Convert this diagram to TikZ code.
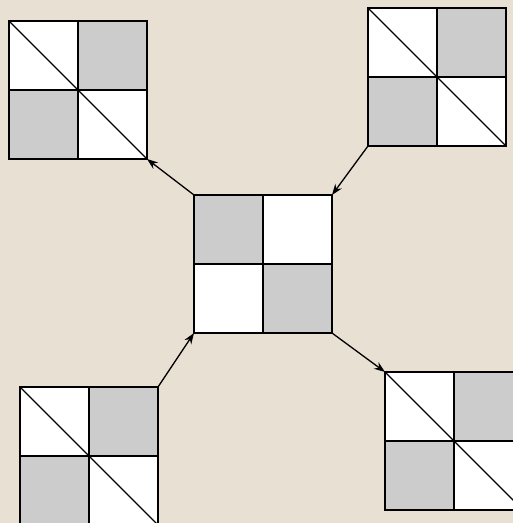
\documentclass[tikz,border=0pt]{standalone}
\usetikzlibrary{arrows.meta}
\definecolor{parch}{RGB}{232,225,211}
\definecolor{tilegray}{RGB}{204,204,204}
\begin{document}
\begin{tikzpicture}[x=1pt,y=1pt,
  tile/.style={draw=black,line width=2pt,minimum width=69pt,minimum height=69pt,inner sep=0pt,outer sep=0pt},
  wt/.style={tile,fill=white},
  gt/.style={tile,fill=tilegray},
  diag/.style={draw=black,line width=1.3pt},
  conn/.style={draw=black,line width=1.3pt,-{Stealth[length=11pt,width=8pt]}}]
\useasboundingbox (0,0) rectangle (513,-523);
\clip (0,0) rectangle (513,-523);
\fill[parch] (0,0) rectangle (513,-523);
% top-left block (x0=9, y0=21)
\node[wt] (a11) at (43.5,-55.5) {};
\node[gt] (a12) at (112.5,-55.5) {};
\node[gt] (a21) at (43.5,-124.5) {};
\node[wt] (a22) at (112.5,-124.5) {};
\draw[diag] (a11.north west) -- (a11.south east);
\draw[diag] (a22.north west) -- (a22.south east);
% top-right block (x0=368, y0=8)
\node[wt] (b11) at (402.5,-42.5) {};
\node[gt] (b12) at (471.5,-42.5) {};
\node[gt] (b21) at (402.5,-111.5) {};
\node[wt] (b22) at (471.5,-111.5) {};
\draw[diag] (b11.north west) -- (b11.south east);
\draw[diag] (b22.north west) -- (b22.south east);
% center block (x0=194, y0=195)
\node[gt] (c11) at (228.5,-229.5) {};
\node[wt] (c12) at (297.5,-229.5) {};
\node[wt] (c21) at (228.5,-298.5) {};
\node[gt] (c22) at (297.5,-298.5) {};
% bottom-left block (x0=20, y0=387)
\node[wt] (d11) at (54.5,-421.5) {};
\node[gt] (d12) at (123.5,-421.5) {};
\node[gt] (d21) at (54.5,-490.5) {};
\node[wt] (d22) at (123.5,-490.5) {};
\draw[diag] (d11.north west) -- (d11.south east);
\draw[diag] (d22.north west) -- (d22.south east);
% bottom-right block (x0=385, y0=372)
\node[wt] (e11) at (419.5,-406.5) {};
\node[gt] (e12) at (488.5,-406.5) {};
\node[gt] (e21) at (419.5,-475.5) {};
\node[wt] (e22) at (488.5,-475.5) {};
\draw[diag] (e11.north west) -- (e11.south east);
\draw[diag] (e22.north west) -- (e22.south east);
% connectors
\draw[conn] (c11.north west) -- (a22.south east);
\draw[conn] (b21.south west) -- (c12.north east);
\draw[conn] (d12.north east) -- (c21.south west);
\draw[conn] (c22.south east) -- (e11.north west);
\end{tikzpicture}
\end{document}
